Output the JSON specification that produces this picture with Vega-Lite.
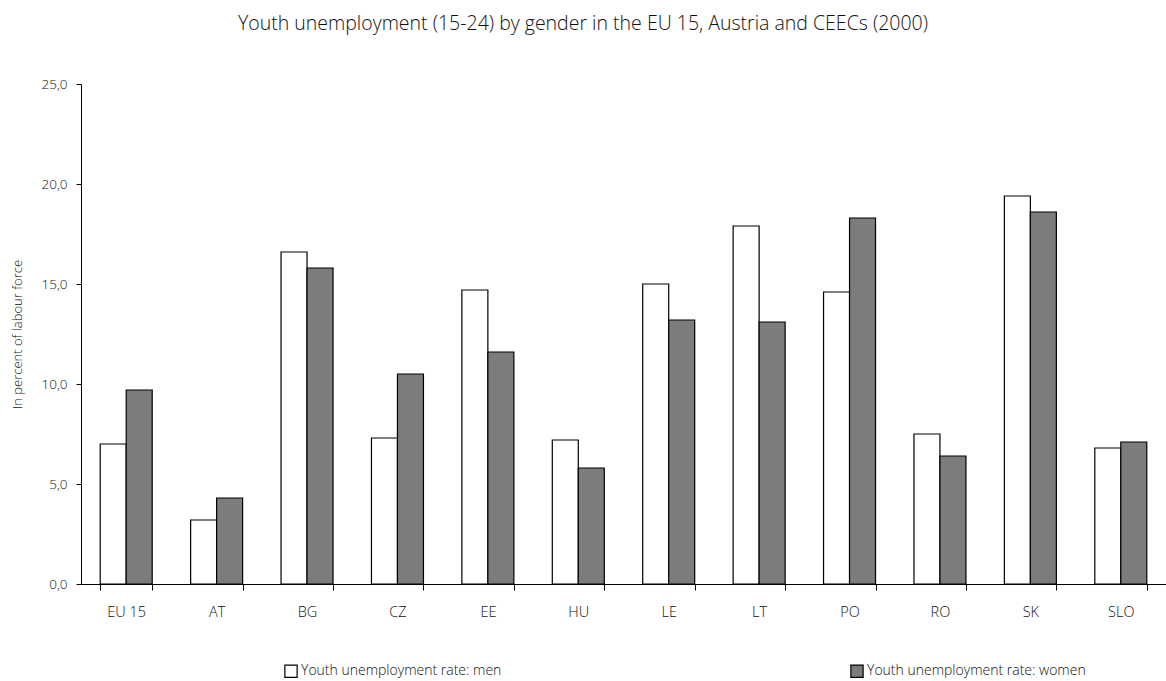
{
  "$schema": "https://vega.github.io/schema/vega-lite/v6.json",
  "autosize": {"type": "none"},
  "padding": {"left": 81, "top": 84, "right": 0, "bottom": 97},
  "width": 1085,
  "height": 500,
  "background": "white",
  "title": {
    "text": "Youth unemployment (15-24) by gender in the EU 15, Austria and CEECs (2000)",
    "font": "Open Sans",
    "fontSize": 19.5,
    "fontWeight": 300,
    "color": "#111",
    "frame": "bounds",
    "anchor": "middle",
    "dx": -6,
    "offset": 43
  },
  "data": {
    "values": [
      {"country": "EU 15", "series": "Youth unemployment rate: men", "value": 7.0},
      {"country": "EU 15", "series": "Youth unemployment rate: women", "value": 9.7},
      {"country": "AT", "series": "Youth unemployment rate: men", "value": 3.2},
      {"country": "AT", "series": "Youth unemployment rate: women", "value": 4.3},
      {"country": "BG", "series": "Youth unemployment rate: men", "value": 16.6},
      {"country": "BG", "series": "Youth unemployment rate: women", "value": 15.8},
      {"country": "CZ", "series": "Youth unemployment rate: men", "value": 7.3},
      {"country": "CZ", "series": "Youth unemployment rate: women", "value": 10.5},
      {"country": "EE", "series": "Youth unemployment rate: men", "value": 14.7},
      {"country": "EE", "series": "Youth unemployment rate: women", "value": 11.6},
      {"country": "HU", "series": "Youth unemployment rate: men", "value": 7.2},
      {"country": "HU", "series": "Youth unemployment rate: women", "value": 5.8},
      {"country": "LE", "series": "Youth unemployment rate: men", "value": 15.0},
      {"country": "LE", "series": "Youth unemployment rate: women", "value": 13.2},
      {"country": "LT", "series": "Youth unemployment rate: men", "value": 17.9},
      {"country": "LT", "series": "Youth unemployment rate: women", "value": 13.1},
      {"country": "PO", "series": "Youth unemployment rate: men", "value": 14.6},
      {"country": "PO", "series": "Youth unemployment rate: women", "value": 18.3},
      {"country": "RO", "series": "Youth unemployment rate: men", "value": 7.5},
      {"country": "RO", "series": "Youth unemployment rate: women", "value": 6.4},
      {"country": "SK", "series": "Youth unemployment rate: men", "value": 19.4},
      {"country": "SK", "series": "Youth unemployment rate: women", "value": 18.6},
      {"country": "SLO", "series": "Youth unemployment rate: men", "value": 6.8},
      {"country": "SLO", "series": "Youth unemployment rate: women", "value": 7.1}
    ]
  },
  "mark": {"type": "bar", "stroke": "black", "strokeWidth": 1.2},
  "encoding": {
    "x": {
      "field": "country",
      "type": "nominal",
      "sort": null,
      "scale": {"paddingInner": 0.425, "paddingOuter": 0.2125},
      "axis": {
        "title": null,
        "labelAngle": 0,
        "labelFont": "Open Sans",
        "labelFontSize": 14.5,
        "labelFontWeight": 300,
        "labelColor": "#111",
        "labelPadding": 15,
        "tickBand": "extent",
        "tickSize": 6,
        "tickColor": "black",
        "domainColor": "black",
        "grid": false
      }
    },
    "xOffset": {"field": "series", "type": "nominal"},
    "y": {
      "field": "value",
      "type": "quantitative",
      "scale": {"domain": [0, 25]},
      "axis": {
        "title": "In percent of labour force",
        "titleFont": "Open Sans",
        "titleFontSize": 13,
        "titleFontWeight": 300,
        "titleColor": "#111",
        "titlePadding": 16,
        "values": [0, 5, 10, 15, 20, 25],
        "labelExpr": "replace(format(datum.value, '.1f'), '.', ',')",
        "labelFont": "Open Sans",
        "labelFontSize": 13.5,
        "labelFontWeight": 300,
        "labelColor": "#111",
        "labelPadding": 9,
        "tickSize": 5,
        "tickColor": "black",
        "domainColor": "black",
        "grid": false
      }
    },
    "fill": {
      "field": "series",
      "type": "nominal",
      "scale": {"range": ["#ffffff", "#7c7c7c"]},
      "legend": {
        "title": null,
        "orient": "none",
        "legendX": 203,
        "legendY": 580,
        "direction": "horizontal",
        "columns": 2,
        "columnPadding": 346,
        "symbolType": "square",
        "symbolSize": 150,
        "symbolStrokeColor": "black",
        "symbolStrokeWidth": 1.2,
        "symbolOffset": 0,
        "labelOffset": 3,
        "labelFont": "Open Sans",
        "labelFontSize": 14,
        "labelFontWeight": 300,
        "labelColor": "#111",
        "labelLimit": 400
      }
    }
  },
  "config": {"view": {"stroke": null}}
}
